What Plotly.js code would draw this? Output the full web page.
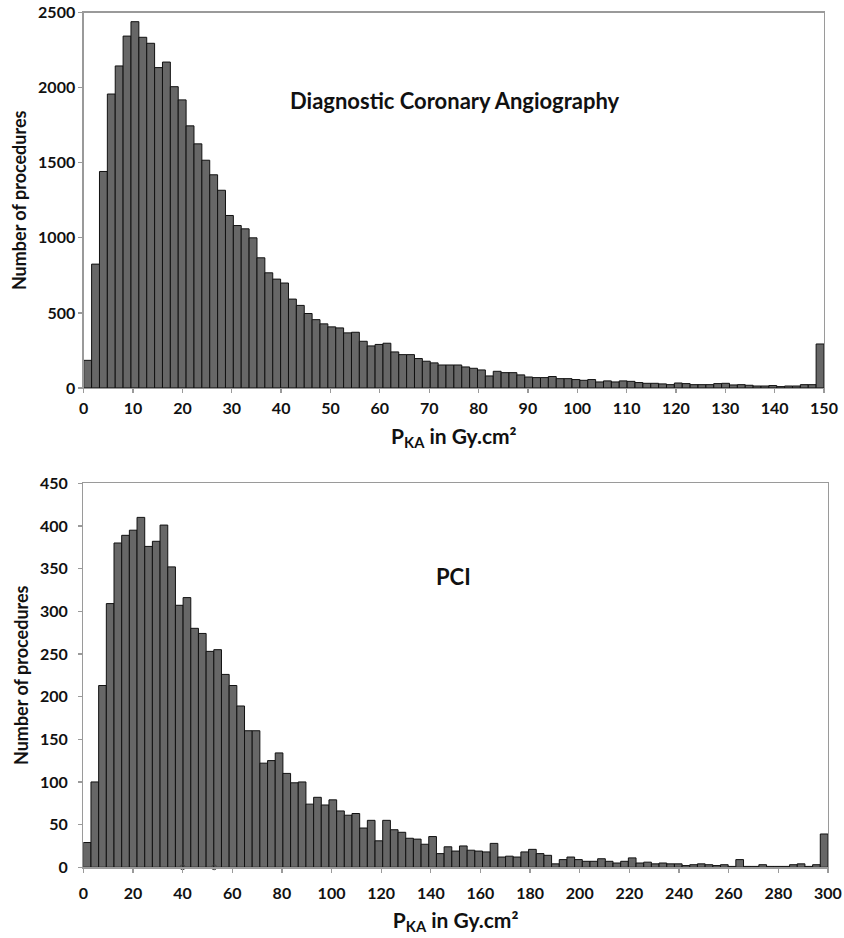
<!DOCTYPE html>
<html><head><meta charset="utf-8">
<script src="https://cdn.plot.ly/plotly-3.0.1.min.js"></script>
<style>html,body{margin:0;padding:0;background:#fff}</style>
</head><body><div id="chart" style="width:844px;height:938px"></div>
<script>
// Diagnostic Coronary Angiography: counts per P_KA bin (0 -> 150 Gy.cm2, last bin = >150)
const dcaCounts = [184, 825, 1442, 1958, 2145, 2344, 2440, 2336, 2296, 2134,
  2171, 2007, 1919, 1746, 1626, 1517, 1420, 1317, 1149, 1082,
  1060, 1000, 867, 767, 725, 699, 592, 550, 496, 455,
  427, 407, 400, 367, 371, 311, 280, 290, 298, 240,
  222, 222, 196, 178, 167, 153, 153, 153, 140, 131,
  120, 80, 111, 102, 102, 87, 73, 69, 69, 76,
  62, 62, 56, 51, 56, 40, 47, 40, 47, 44,
  36, 31, 31, 27, 22, 33, 29, 22, 22, 22,
  29, 31, 20, 22, 18, 13, 13, 16, 9, 13,
  13, 22, 22, 293];
// PCI: counts per P_KA bin (0 -> 300 Gy.cm2, last bin = >300)
const pciCounts = [29, 100, 213, 309, 380, 389, 395, 410, 376, 382,
  401, 352, 307, 316, 280, 274, 253, 255, 226, 213,
  189, 160, 160, 122, 125, 134, 110, 99, 100, 74,
  82, 73, 79, 66, 61, 63, 46, 55, 31, 55,
  44, 41, 34, 33, 27, 36, 16, 24, 19, 25,
  20, 19, 18, 28, 12, 13, 12, 18, 21, 16,
  14, 4, 9, 12, 9, 7, 7, 10, 7, 5,
  7, 11, 5, 6, 4, 5, 4, 4, 2, 3,
  4, 3, 2, 3, 1, 9, 1, 1, 3, 1,
  1, 1, 3, 4, 1, 3, 39];
const dcaRangeMax = 150;
const pciRangeMax = 300;
const dcaXTicks = [0,10,20,30,40,50,60,70,80,90,100,110,120,130,140,150];
const pciXTicks = [0,20,40,60,80,100,120,140,160,180,200,220,240,260,280,300];
const dcaYTicks = [0,500,1000,1500,2000,2500];
const pciYTicks = [0,50,100,150,200,250,300,350,400,450];
const pciBaseMarksX = [40, 52.7];
const pciBaseMarksY = [0, 0];
const dcaLabel = 'Diagnostic Coronary Angiography';
const pciLabel = 'PCI';
const xTitle = 'P<sub>KA</sub> in Gy.cm²';
const yTitle = 'Number of procedures';

const dcaW = dcaRangeMax / dcaCounts.length;
const pciW = pciRangeMax / pciCounts.length;
const dcaX = dcaCounts.map((_, i) => (i + 0.5) * dcaW);
const pciX = pciCounts.map((_, i) => (i + 0.5) * pciW);

const FONT = 'Lato, "Open Sans", sans-serif';
const barStyle = {color: '#676767', line: {color: '#111', width: 1}};

const traces = [
  {type: 'bar', x: dcaX, y: dcaCounts, width: dcaW, marker: barStyle, xaxis: 'x', yaxis: 'y', hoverinfo: 'x+y'},
  {type: 'bar', x: pciX, y: pciCounts, width: pciW, marker: barStyle, xaxis: 'x2', yaxis: 'y2', hoverinfo: 'x+y'},
  {type: 'scatter', mode: 'markers', x: pciBaseMarksX, y: pciBaseMarksY, xaxis: 'x2', yaxis: 'y2',
   marker: {symbol: 'circle-open', size: 5, color: '#444', line: {width: 1}}, cliponaxis: false, hoverinfo: 'skip'}
];

const tickFont = {family: FONT, size: 16, color: '#111', weight: 'bold'};
const axCommon = {
  showline: true, linecolor: '#9a9a9a', linewidth: 1.3, mirror: true,
  ticks: 'outside', ticklen: 4, tickcolor: '#9a9a9a', tickwidth: 1.3,
  showgrid: false, zeroline: false, tickfont: tickFont, fixedrange: true
};
const xTitleFont = {family: FONT, size: 21, color: '#111', weight: 'bold'};
const yTitleFont = {family: FONT, size: 18, color: '#111', weight: 'bold'};

const layout = {
  width: 844, height: 938,
  margin: {l: 0, r: 0, t: 0, b: 0},
  paper_bgcolor: '#fff', plot_bgcolor: '#fff',
  showlegend: false, bargap: 0,
  font: {family: FONT, color: '#111'},
  xaxis: Object.assign({}, axCommon, {
    domain: [0.0992, 0.9763], anchor: 'y', range: [0, dcaRangeMax],
    tickmode: 'array', tickvals: dcaXTicks, ticklabelstandoff: 2,
    title: {text: xTitle, font: xTitleFont, standoff: 12}
  }),
  yaxis: Object.assign({}, axCommon, {
    domain: [0.5864, 0.9865], anchor: 'x', range: [0, 2500],
    tickmode: 'array', tickvals: dcaYTicks,
    title: {text: yTitle, font: yTitleFont, standoff: 6}
  }),
  xaxis2: Object.assign({}, axCommon, {
    domain: [0.0987, 0.981], anchor: 'y2', range: [0, pciRangeMax],
    tickmode: 'array', tickvals: pciXTicks, ticklabelstandoff: 7,
    title: {text: xTitle, font: xTitleFont, standoff: 12}
  }),
  yaxis2: Object.assign({}, axCommon, {
    domain: [0.0754, 0.4848], anchor: 'x2', range: [0, 450],
    tickmode: 'array', tickvals: pciYTicks, ticklabelstandoff: 7,
    title: {text: yTitle, font: yTitleFont, standoff: 6}
  }),
  annotations: [
    {text: dcaLabel, xref: 'paper', yref: 'paper', x: 455/844, y: 1 - 100/938, xanchor: 'center', yanchor: 'middle',
     showarrow: false, font: {family: FONT, size: 22, color: '#111', weight: 'bold'}},
    {text: pciLabel, xref: 'paper', yref: 'paper', x: 454/844, y: 1 - 576/938, xanchor: 'center', yanchor: 'middle',
     showarrow: false, font: {family: FONT, size: 22, color: '#111', weight: 'bold'}}
  ]
};

Plotly.newPlot('chart', traces, layout, {displayModeBar: false, staticPlot: true});
</script>
</body></html>
